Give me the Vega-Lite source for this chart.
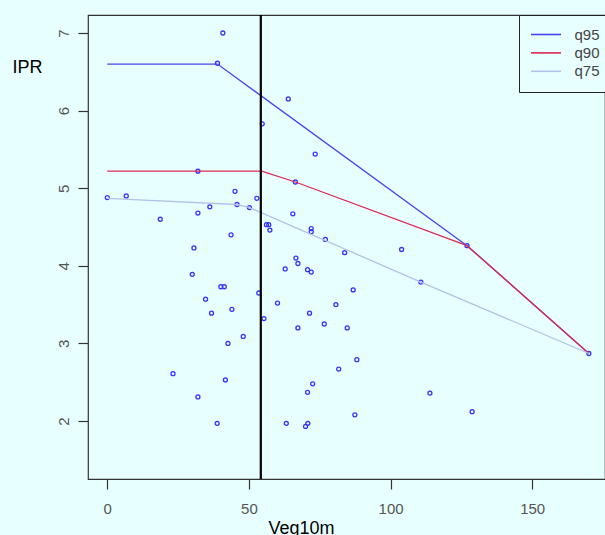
{
  "$schema": "https://vega.github.io/schema/vega-lite/v6.json",
  "autosize": {"type": "none"},
  "padding": {"left": 88, "top": 15, "right": 0, "bottom": 56},
  "width": 517,
  "height": 464,
  "background": "#e8ffff",
  "config": {
    "font": "Liberation Sans",
    "view": {"stroke": "#333333", "strokeWidth": 1.2}
  },
  "datasets": {
    "pts": [
      {"Veg10m": 40.8, "IPR": 7.0}, {"Veg10m": 38.9, "IPR": 6.61}, {"Veg10m": 32.0, "IPR": 5.22},
      {"Veg10m": 0, "IPR": 4.88}, {"Veg10m": 6.7, "IPR": 4.9}, {"Veg10m": 45.1, "IPR": 4.96},
      {"Veg10m": 36.2, "IPR": 4.76}, {"Veg10m": 45.8, "IPR": 4.79}, {"Veg10m": 32.0, "IPR": 4.68},
      {"Veg10m": 18.7, "IPR": 4.6}, {"Veg10m": 43.7, "IPR": 4.4}, {"Veg10m": 30.6, "IPR": 4.23},
      {"Veg10m": 30.0, "IPR": 3.89}, {"Veg10m": 40.1, "IPR": 3.73}, {"Veg10m": 41.3, "IPR": 3.73},
      {"Veg10m": 34.7, "IPR": 3.57}, {"Veg10m": 44.0, "IPR": 3.44}, {"Veg10m": 36.8, "IPR": 3.39},
      {"Veg10m": 48.0, "IPR": 3.09}, {"Veg10m": 42.6, "IPR": 3.0}, {"Veg10m": 23.2, "IPR": 2.61},
      {"Veg10m": 41.7, "IPR": 2.53}, {"Veg10m": 32.0, "IPR": 2.31}, {"Veg10m": 38.8, "IPR": 1.97},
      {"Veg10m": 63.9, "IPR": 6.15}, {"Veg10m": 54.7, "IPR": 5.83}, {"Veg10m": 73.4, "IPR": 5.44},
      {"Veg10m": 66.4, "IPR": 5.08}, {"Veg10m": 52.8, "IPR": 4.87}, {"Veg10m": 50.2, "IPR": 4.75},
      {"Veg10m": 65.5, "IPR": 4.67}, {"Veg10m": 56.2, "IPR": 4.53}, {"Veg10m": 57.0, "IPR": 4.53},
      {"Veg10m": 57.4, "IPR": 4.46}, {"Veg10m": 72.0, "IPR": 4.48}, {"Veg10m": 72.0, "IPR": 4.44},
      {"Veg10m": 77.0, "IPR": 4.34}, {"Veg10m": 83.8, "IPR": 4.17}, {"Veg10m": 66.6, "IPR": 4.1},
      {"Veg10m": 67.3, "IPR": 4.03}, {"Veg10m": 62.8, "IPR": 3.96}, {"Veg10m": 70.7, "IPR": 3.95},
      {"Veg10m": 72.0, "IPR": 3.92}, {"Veg10m": 86.8, "IPR": 3.69}, {"Veg10m": 53.5, "IPR": 3.65},
      {"Veg10m": 60.1, "IPR": 3.52}, {"Veg10m": 80.7, "IPR": 3.5}, {"Veg10m": 71.4, "IPR": 3.39},
      {"Veg10m": 55.3, "IPR": 3.32}, {"Veg10m": 76.6, "IPR": 3.25}, {"Veg10m": 67.3, "IPR": 3.2},
      {"Veg10m": 84.7, "IPR": 3.2}, {"Veg10m": 88.1, "IPR": 2.79}, {"Veg10m": 81.7, "IPR": 2.67},
      {"Veg10m": 72.5, "IPR": 2.48}, {"Veg10m": 70.7, "IPR": 2.37}, {"Veg10m": 87.4, "IPR": 2.08},
      {"Veg10m": 63.2, "IPR": 1.97}, {"Veg10m": 70.8, "IPR": 1.97}, {"Veg10m": 70.0, "IPR": 1.93},
      {"Veg10m": 103.9, "IPR": 4.21}, {"Veg10m": 110.7, "IPR": 3.79}, {"Veg10m": 113.9, "IPR": 2.36},
      {"Veg10m": 128.8, "IPR": 2.12}, {"Veg10m": 127.0, "IPR": 4.26}, {"Veg10m": 170.0, "IPR": 2.87}
    ],
    "lines": [
      {"Veg10m": 0, "IPR": 6.6, "q": "q95"}, {"Veg10m": 38.9, "IPR": 6.6, "q": "q95"},
      {"Veg10m": 127.0, "IPR": 4.26, "q": "q95"}, {"Veg10m": 170.0, "IPR": 2.87, "q": "q95"},
      {"Veg10m": 0, "IPR": 5.22, "q": "q90"}, {"Veg10m": 54.5, "IPR": 5.22, "q": "q90"},
      {"Veg10m": 66.4, "IPR": 5.08, "q": "q90"}, {"Veg10m": 127.0, "IPR": 4.26, "q": "q90"},
      {"Veg10m": 170.0, "IPR": 2.87, "q": "q90"},
      {"Veg10m": 0, "IPR": 4.87, "q": "q75"}, {"Veg10m": 45.8, "IPR": 4.79, "q": "q75"},
      {"Veg10m": 50.2, "IPR": 4.75, "q": "q75"}, {"Veg10m": 110.7, "IPR": 3.79, "q": "q75"},
      {"Veg10m": 170.0, "IPR": 2.87, "q": "q75"}
    ],
    "vline": [{"Veg10m": 54.2}]
  },
  "layer": [
    {
      "data": {"name": "pts"},
      "mark": {"type": "point", "filled": false, "color": "#3535ff", "size": 16, "strokeWidth": 1.3, "opacity": 1},
      "encoding": {
        "x": {
          "field": "Veg10m", "type": "quantitative",
          "scale": {"domain": [-6.8, 175.7], "nice": false, "zero": false},
          "axis": {
            "values": [0, 50, 100, 150], "domain": false, "grid": false,
            "tickSize": 10, "tickColor": "#333333", "tickWidth": 1.2,
            "labelFontSize": 15, "labelColor": "#555555", "labelPadding": 12,
            "title": "Veg10m", "titleFontSize": 18, "titleFontWeight": "normal", "titleColor": "#000000",
            "titleX": 213, "titleY": 40, "titleAnchor": null, "titleAlign": "center", "titleBaseline": "top"
          }
        },
        "y": {
          "field": "IPR", "type": "quantitative",
          "scale": {"domain": [1.253, 7.232], "nice": false, "zero": false},
          "axis": {
            "values": [2, 3, 4, 5, 6, 7], "format": "d", "domain": false, "grid": false,
            "tickSize": 10, "tickColor": "#333333", "tickWidth": 1.2,
            "labelFontSize": 15, "labelColor": "#555555", "labelPadding": 10,
            "labelAngle": -90, "labelAlign": "center", "labelBaseline": "alphabetic",
            "title": "IPR", "titleFontSize": 18, "titleFontWeight": "normal", "titleColor": "#000000",
            "titleAngle": 0, "titleX": -76, "titleY": 52, "titleAlign": "left", "titleBaseline": "middle"
          }
        }
      }
    },
    {
      "data": {"name": "lines"},
      "mark": {"type": "line", "strokeWidth": 1.3},
      "encoding": {
        "x": {"field": "Veg10m", "type": "quantitative"},
        "y": {"field": "IPR", "type": "quantitative"},
        "color": {
          "field": "q", "type": "nominal",
          "scale": {"domain": ["q95", "q90", "q75"], "range": ["#4545ee", "#dc2a55", "#b0c4e6"]},
          "legend": {
            "title": null, "orient": "none", "legendX": 431, "legendY": 0,
            "direction": "vertical",
            "strokeColor": "#222222", "fillColor": "#e8ffff", "padding": 12, "rowPadding": 2.4,
            "symbolType": "M-1.5,0H4.5", "symbolSize": 100, "symbolStrokeWidth": 1.6,
            "labelFontSize": 15, "labelColor": "#444444", "labelOffset": 28.5, "labelLimit": 100
          }
        },
        "order": {"field": "Veg10m", "type": "quantitative"}
      }
    },
    {
      "data": {"name": "vline"},
      "mark": {"type": "rule", "color": "#000000", "strokeWidth": 2.2},
      "encoding": {
        "x": {"field": "Veg10m", "type": "quantitative"}
      }
    }
  ]
}
